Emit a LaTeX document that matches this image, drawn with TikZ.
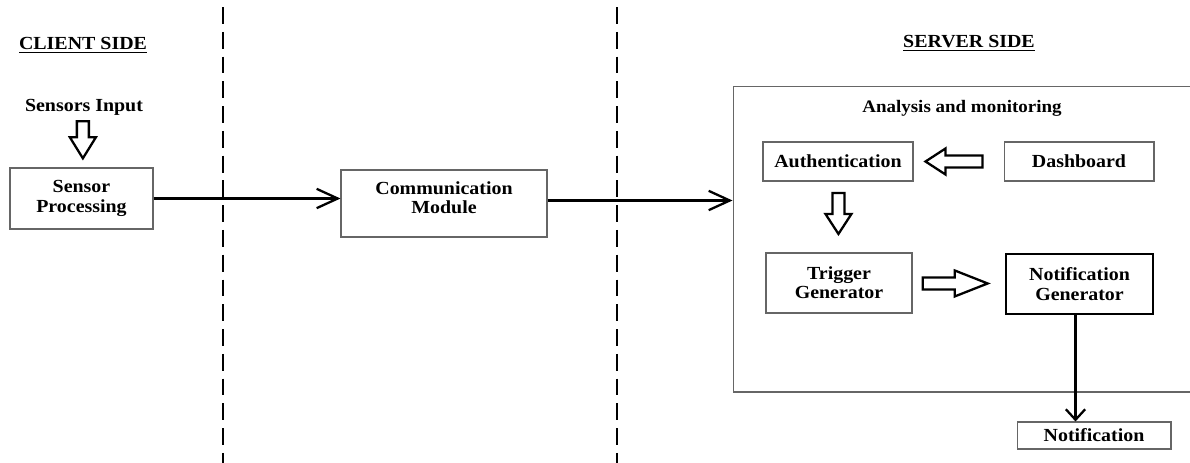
\documentclass[tikz,border=0pt]{standalone}
\usepackage{fontspec}
\setmainfont{Liberation Serif}[FakeStretch=1.08]
\usetikzlibrary{arrows.meta,calc}
\definecolor{boxgray}{HTML}{666666}

\newcommand{\hollowarrow}[4]{%
  \draw[hollow, shift={#1}, rotate=#2]
    (-#3/2,-6) -- (#3/2-#4,-6) -- (#3/2-#4,-13) -- (#3/2,0)
    -- (#3/2-#4,13) -- (#3/2-#4,6) -- (-#3/2,6) -- cycle;}

\begin{document}
\begin{tikzpicture}[x=0.02cm, y=-0.02cm,
  font=\bfseries\fontsize{10.5}{11}\selectfont,
  box/.style={draw=boxgray, line width=0.6pt, align=center, inner sep=0pt},
  link/.style={line width=1.4pt, -{Straight Barb[length=12pt,width=11pt,line width=1.3pt]}},
  hollow/.style={draw, line width=1.3pt, fill=white, line join=miter},
  divider/.style={line width=0.6pt, dash pattern=on 9.6pt off 4.5pt}]
  \useasboundingbox (0,0) rectangle (1190,463);
  \clip (0,0) rectangle (1190,463);
  \fill[white] (0,0) rectangle (1190,463);

  \draw[divider] (223,7) -- (223,463);
  \draw[divider] (617,7) -- (617,463);

  \node (client) at (83,45) {\underline{CLIENT SIDE}};
  \node (server) at (969,43) {\underline{SERVER SIDE}};
  \node[inner sep=1pt] (input) at (84,107) {Sensors Input};

  \node[box, minimum width=2.86cm, minimum height=1.22cm] (sensor) at (81.5,198.5) {Sensor\\Processing};
  \node[box, minimum width=4.12cm, minimum height=1.34cm] (comm) at (444,203.5) {Communication\\Module\\[-4pt]};

  \node[box, minimum width=10cm, minimum height=6.12cm] (server box) at (983,239) {};
  \node[font=\bfseries\fontsize{10}{11}\selectfont] (analysis) at (962,108) {Analysis and monitoring};
  \node[box, minimum width=3.0cm, minimum height=0.78cm] (auth) at (838,161.5) {Authentication};
  \node[box, minimum width=3.0cm, minimum height=0.78cm] (dash) at (1079,161.5) {Dashboard};
  \node[box, minimum width=2.92cm, minimum height=1.2cm] (trig) at (839,283) {Trigger\\Generator};
  \node[box, draw=black, line width=0.8pt, minimum width=2.94cm, minimum height=1.2cm] (notgen) at (1079.5,284) {Notification\\Generator};
  \node[box, minimum width=3.08cm, minimum height=0.54cm] (notif) at (1094,435.5) {Notification};

  \draw[link] (sensor.east) -- (sensor.east -| comm.west);
  \draw[link] (comm.east) ++(0,-3) -- ($(comm.east -| server box.west)+(0,-3)$);
  \draw[line width=1.4pt, -{Straight Barb[length=6pt,width=11pt,line width=1.3pt]}]
    ($(notgen.south)+(-4,0)$) -- ($(notgen.south |- notif.north)+(-4,0)$);

  \hollowarrow{($(input.south)!0.45!(sensor.north)$)}{-90}{37}{21}
  \hollowarrow{($(dash.west)!0.55!(auth.east)$)}{180}{57}{20}
  \hollowarrow{($(auth.south)!0.45!(trig.north)$)}{-90}{41}{20}
  \hollowarrow{($(trig.east)!0.46!(notgen.west)$)}{0}{65}{33}
\end{tikzpicture}
\end{document}
